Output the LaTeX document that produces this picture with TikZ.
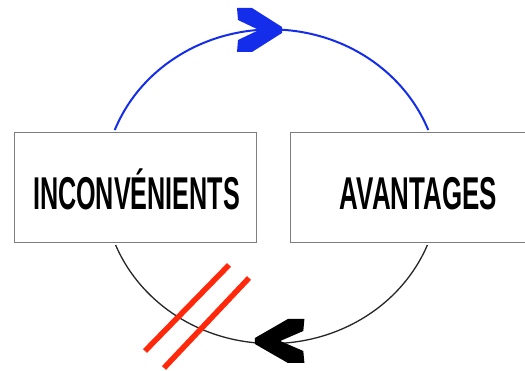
\documentclass[tikz,border=0pt]{standalone}
\usepackage{fontspec}
\setmainfont{Liberation Sans}
\definecolor{arcblue}{RGB}{20,45,235}
\definecolor{redmark}{RGB}{255,40,10}
\definecolor{boxgray}{RGB}{125,125,125}
\begin{document}
\begin{tikzpicture}[x=1pt,y=1pt,
  box/.style={draw=boxgray, line width=1.2pt, fill=white, inner sep=0pt, anchor=south west},
  lbl/.style={font=\fontsize{46}{50}\selectfont\bfseries, inner sep=0pt, anchor=base},
  bluearc/.style={draw=arcblue, line width=2pt},
  blackarc/.style={draw=black!85, line width=1.3pt},
  redbar/.style={draw=redmark, line width=5.5pt},
  chevron/.pic={\fill[pic actions] (1,3) -- (-29,22) -- (-44,22) -- (-43,10) -- (-22,0) -- (-43,-10) -- (-44,-22) -- (-29,-22) -- (1,-3) -- cycle;}
]
\useasboundingbox[fill=white] (0,0) rectangle (525,371);
\node[box, minimum width=242pt, minimum height=110pt] (L) at (14,128) {};
\node[box, minimum width=270pt, minimum height=110pt] (R) at (290,128) {};
\node[lbl] (Lt) at (136.5,161) {\scalebox{0.547}[1]{INCONVÉNIENTS}};
\node[lbl] (Rt) at (418.5,161) {\scalebox{0.564}[1]{AVANTAGES}};
\coordinate (c) at (271.5,184.5);
\draw[bluearc] ([shift={(158.9:168pt and 157pt)}]c) arc[start angle=158.9, end angle=21.1, x radius=168pt, y radius=157pt];
\draw[blackarc] ([shift={(-21.9:168pt and 157pt)}]c) arc[start angle=-21.9, end angle=-158.1, x radius=168pt, y radius=157pt];
\coordinate (tb) at (281,341);
\coordinate (tk) at (256,30);
\pic[fill=arcblue] at (tb) {chevron};
\pic[fill=black, xscale=-1.1] at (tk) {chevron};
\coordinate (r1a) at (145,20);
\coordinate (r1b) at (229,106);
\coordinate (r2a) at (164,3);
\coordinate (r2b) at (249,93);
\draw[redbar] (r1a) -- (r1b);
\draw[redbar] (r2a) -- (r2b);
\end{tikzpicture}
\end{document}
